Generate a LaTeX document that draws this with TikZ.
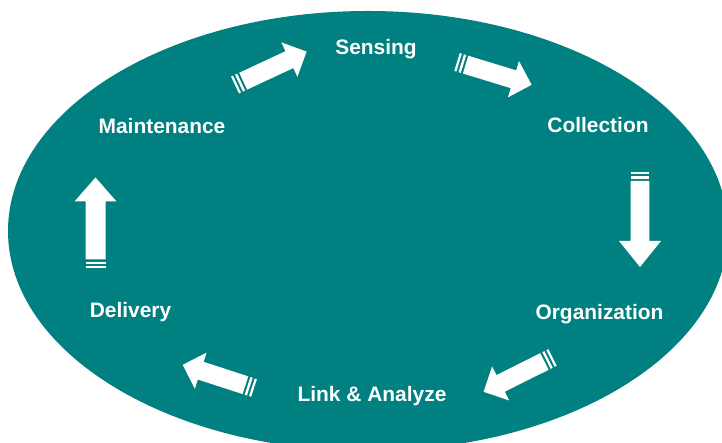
\documentclass[tikz,border=0pt]{standalone}
\usepackage{fontspec}
\setmainfont{Liberation Sans}
\definecolor{tealbg}{RGB}{0,128,128}
\newcommand{\sarrow}[7]{%
\begin{scope}[shift={(#1,443-#2)},rotate=#3]
\fill[white] (0,-#7) rectangle (2.2,#7);
\fill[white] (4.4,-#7) rectangle (6.8,#7);
\fill[white] (9,-#7) -- ({#4-#5},-#7) -- ({#4-#5},-#6) -- (#4,0) -- ({#4-#5},#6) -- ({#4-#5},#7) -- (9,#7) -- cycle;
\end{scope}}
\tikzset{lbl/.style={text=white, font=\fontsize{21}{25}\selectfont\bfseries, anchor=base, inner sep=0pt}}
\begin{document}
\begin{tikzpicture}[x=1bp,y=1bp]
\useasboundingbox (0,0) rectangle (722,443);
\clip (0,0) rectangle (722,443);
\fill[white] (0,0) rectangle (722,443);
\fill[tealbg] (368,212) ellipse [x radius=360, y radius=220];
\node[lbl] (sensing) at (376,443-55) {Sensing};
\node[lbl] (collection) at (598,443-133) {Collection};
\node[lbl] (organization) at (599.5,443-320) {Organization};
\node[lbl] (link) at (372,443-402) {Link \& Analyze};
\node[lbl] (delivery) at (130.5,443-318) {Delivery};
\node[lbl] (maintenance) at (162,443-134) {Maintenance};
\sarrow{235}{85}{25}{79}{19}{19}{9.3}
\sarrow{457}{62}{-17}{78}{19}{19}{9.3}
\sarrow{640}{172}{-90}{95}{26}{21}{9.4}
\sarrow{552.5}{357.5}{206.5}{77}{19}{19}{9.3}
\sarrow{254}{388}{162}{75}{19}{19}{9.3}
\sarrow{95.5}{268.5}{90}{91}{24}{21}{10}
\end{tikzpicture}
\end{document}
